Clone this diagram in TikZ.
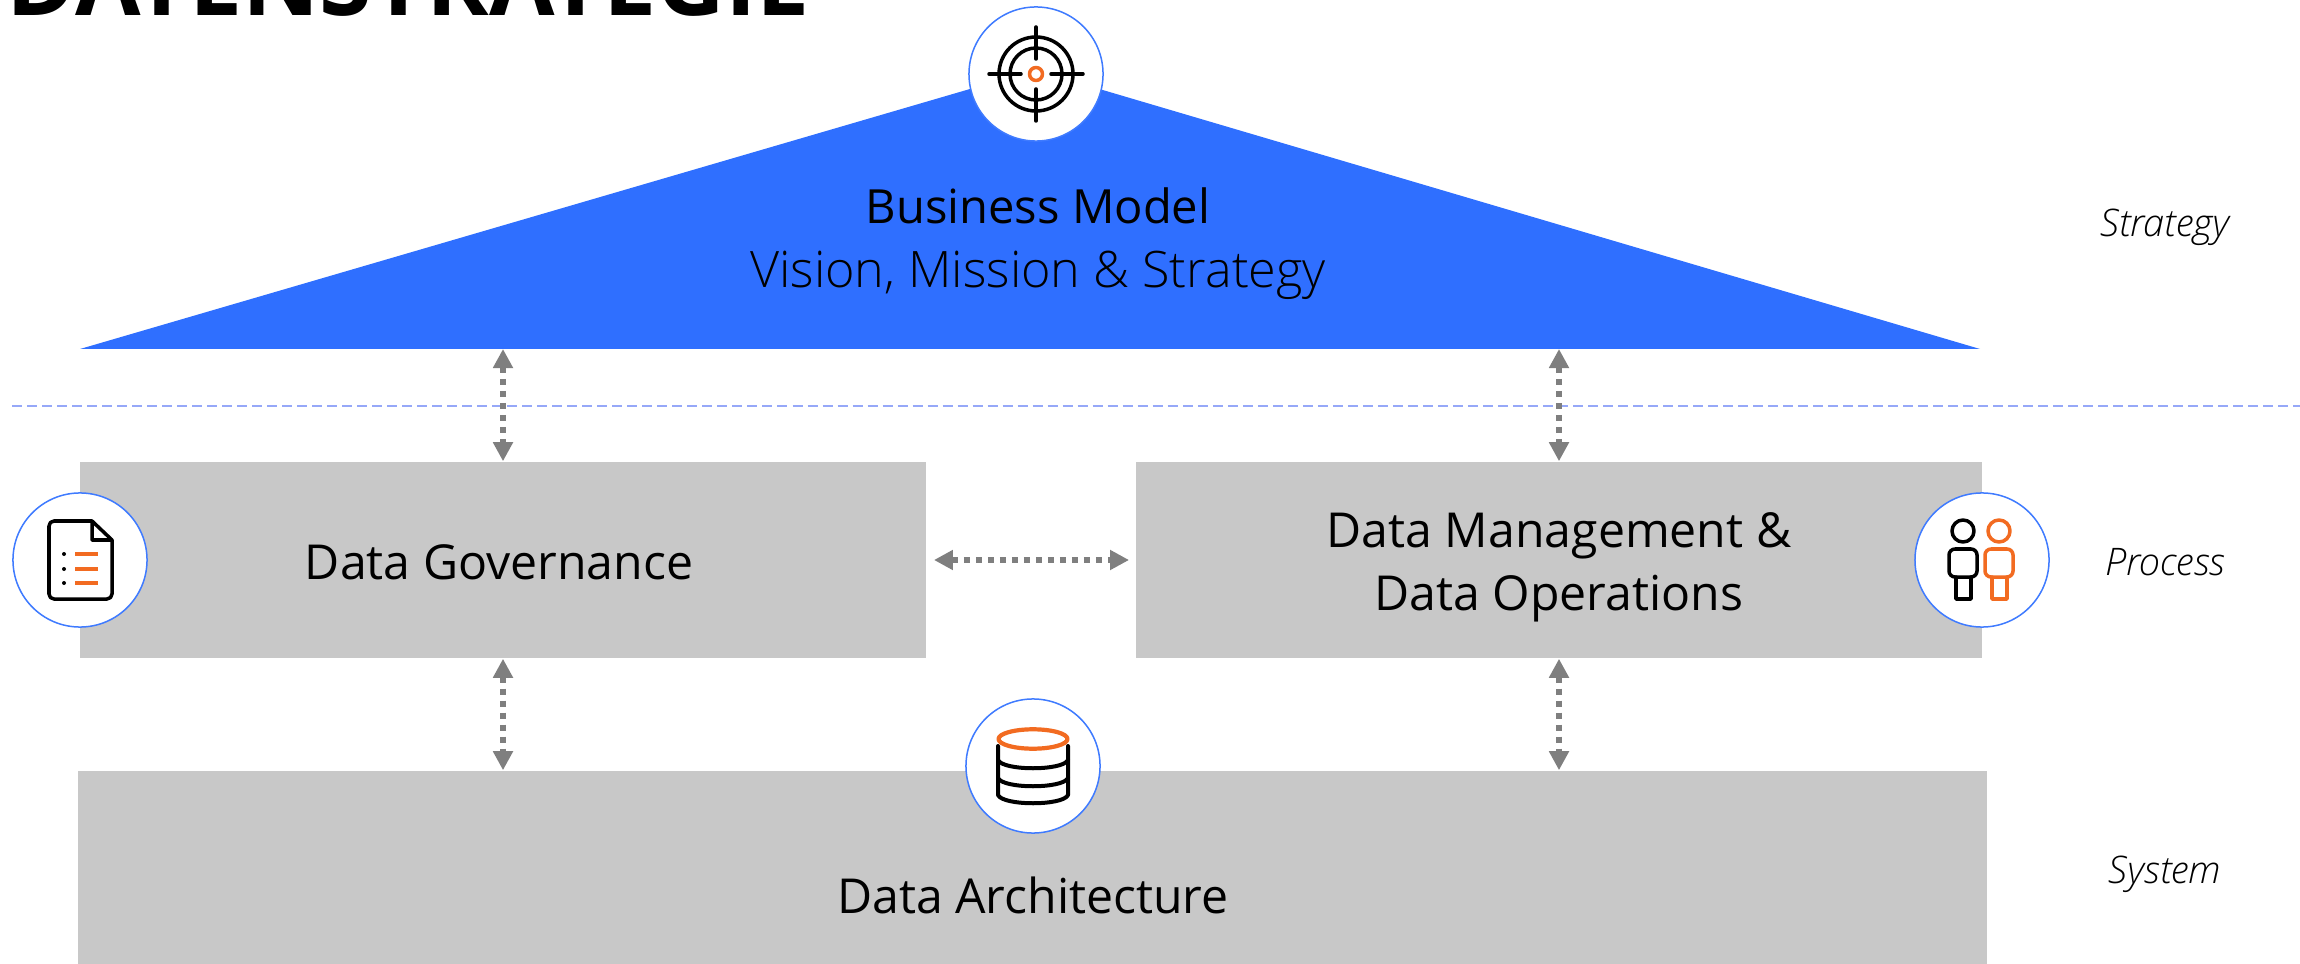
\documentclass[tikz,border=0pt]{standalone}
\usepackage{fontspec}
\setmainfont{Open Sans}
\newfontfamily\lightfont{Open Sans Light}
\usetikzlibrary{arrows.meta}
\definecolor{bmblue}{HTML}{2F6FFF}
\definecolor{ringblue}{HTML}{3F7BFF}
\definecolor{boxgrey}{HTML}{C8C8C8}
\definecolor{linkgrey}{HTML}{7F7F7F}
\definecolor{iconorange}{HTML}{F26B21}
\definecolor{dashblue}{HTML}{96A8F8}
\tikzset{
    greybox/.style={fill=boxgrey, inner sep=0pt},
    boxtext/.style={align=center, font=\fontsize{13.7}{18}\selectfont},
    iconring/.style={circle, draw=ringblue, fill=white, line width=0.015cm, minimum size=1.34cm, inner sep=0pt},
    linkarrow/.style={linkgrey, line width=0.065cm, dash pattern=on 0.065cm off 0.055cm,
        {Triangle[length=0.19cm,width=0.19cm]}-{Triangle[length=0.19cm,width=0.19cm]}},
    sidetext/.style={font=\lightfont\itshape\fontsize{10.8}{13}\selectfont},
    iconline/.style={line width=0.035cm, line cap=round, line join=round}
}
\begin{document}
\begin{tikzpicture}[x=0.01cm, y=-0.01cm]
    \useasboundingbox (0,0) rectangle (2300,964);
    \clip (0,0) rectangle (2300,964);

    \node[anchor=base west, inner sep=0pt, font=\bfseries\fontsize{27}{27}\selectfont] (title) at (6,16) {DATENSTRATEGIE};

    % business model on top
    \coordinate (tl) at (80,349);
    \coordinate (tr) at (1980,349);
    \coordinate (ta) at (1035,70);
    \fill[bmblue] (tl) -- (ta) -- (tr) -- cycle;
    \node[align=center, font=\fontsize{13.4}{18.2}\selectfont] (bm) at (1038,244)
        {Business Model\\{\lightfont\fontsize{14.3}{18.2}\selectfont Vision, Mission \& Strategy}};

    \draw[dashblue, line width=0.015cm, dash pattern=on 0.1cm off 0.05cm] (12,406) -- (2300,406);

    \node[greybox, minimum width=8.46cm, minimum height=1.96cm] (gov) at (503,560) {};
    \node[greybox, minimum width=8.46cm, minimum height=1.96cm] (mgmt) at (1559,560) {};
    \node[greybox, minimum width=19.07cm, minimum height=1.93cm] (arch) at (1032.5,867.5) {};
    \node[boxtext] (govtext) at (499,562) {Data Governance};
    \node[boxtext] (mgmttext) at (1559,567) {Data Management \&\\Data Operations};
    \node[boxtext] (archtext) at (1033,895) {Data Architecture};

    \node[sidetext] (strategy) at (2165,227) {Strategy};
    \node[sidetext] (process) at (2165,562) {Process};
    \node[sidetext] (system) at (2165,874) {System};

    % links between the blocks
    \foreach \b in {gov,mgmt}
    {%
        \draw[linkarrow] (\b.north |- tl) -- (\b.north);
        \draw[linkarrow] (\b.south) -- (\b.south |- arch.north);
    }
    \draw[linkarrow, shorten <=0.07cm, shorten >=0.06cm] (gov.east) -- (mgmt.west);

    \node[iconring] (target) at (1036,74) {};
    \node[iconring] (doc) at (80,560) {};
    \node[iconring] (people) at (1982,560) {};
    \node[iconring] (db) at (1033,766) {};

    % target
    \begin{scope}[shift={(target.center)}, iconline]
        \draw (0,0) circle [radius=37];
        \draw (0,0) circle [radius=26];
        \foreach \a in {0,90,180,270}
            \draw[rotate=\a] (15,0) -- (47,0);
        \draw[iconorange] (0,0) circle [radius=6.5];
    \end{scope}

    % document
    \begin{scope}[shift={(doc.center)}, iconline]
        \draw[rounded corners=0.05cm] (12,-39) -- (-31,-39) -- (-31,39) -- (32,39) -- (32,-20);
        \draw (12,-39) -- (32,-20) -- (12,-20) -- cycle;
        \foreach \y in {-6,9,23}
        {%
            \fill (-16,\y) circle [radius=2];
            \draw[iconorange, line cap=butt] (-5,\y) -- (18,\y);
        }
    \end{scope}

    % people
    \begin{scope}[shift={(people.center)}, iconline]
        \foreach \x/\c in {0/black,36/iconorange}
        {%
            \draw[\c] (\x-19,-29) circle [radius=11];
            \draw[\c, rounded corners=0.06cm] (\x-33,-11) rectangle (\x-5,17);
            \draw[\c] (\x-26,17) -- (\x-26,39) -- (\x-11,39) -- (\x-11,17);
        }
    \end{scope}

    % database
    \begin{scope}[shift={(db.center)}, iconline]
        \draw[line width=0.04cm] (-35,-20) -- (-35,29) .. controls (-30,40) and (30,40) .. (35,29) -- (35,-20);
        \draw[line width=0.04cm] (-35,-6) .. controls (-30,5) and (30,5) .. (35,-6);
        \draw[line width=0.04cm] (-35,12) .. controls (-30,23) and (30,23) .. (35,12);
        \draw[iconorange, line width=0.042cm] (0,-27) circle [x radius=34.5, y radius=9.7];
    \end{scope}
\end{tikzpicture}
\end{document}
